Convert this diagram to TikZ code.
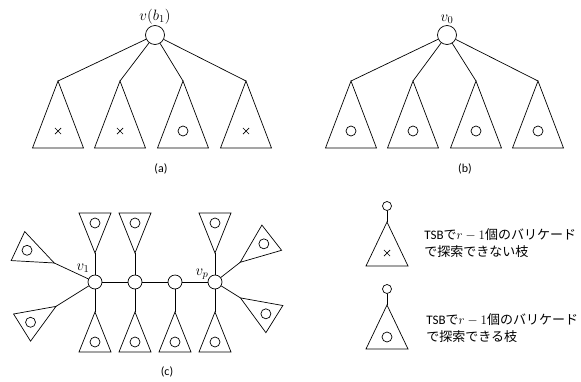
\RequirePackage{fix-cm}
\documentclass[tikz,border=0pt]{standalone}
\usepackage{fontspec}
\setmainfont{Carlito}
\newfontfamily\jpfont{Noto Sans CJK JP}
\usetikzlibrary{positioning,shapes.misc}

\tikzset{
  vtx/.style={circle, draw, fill=white, inner sep=0pt, minimum size=#1},
  okmark/.style={circle, draw, inner sep=0pt, minimum size=10pt},
  ngmark/.style={cross out, draw, inner sep=0pt, minimum size=5.5pt},
  sublabel/.style={font=\fontsize{12}{14}\selectfont},
  vlabel/.style={inner sep=1pt, font=\fontsize{15}{17}\selectfont},
  note/.style={anchor=west, align=left, inner sep=0pt, font=\fontsize{13}{17}\selectfont},
}

\begin{document}
\begin{tikzpicture}[x=1pt, y=-1pt, line width=0.7pt]
	\useasboundingbox (0,0) rectangle (581,381);
	% (a)
	\node[vtx=19pt] (ra) at (155,35) {};
	\node[vlabel, above=0pt of ra] (ralab) {$v(b_1)$};
	\foreach \x/\m [count=\i] in {58/ngmark,120/ngmark,183/okmark,246/ngmark} {
		\coordinate (ta\i) at (\x,81);
		\draw (ta\i) -- ++(25.5,67) -- ++(-51,0) -- cycle;
		\node[\m] (ma\i) at (\x,131) {};
		\draw (ra) -- (ta\i);
	}
	\node[sublabel] (capa) at (161,169) {(a)};
	% (b)
	\node[vtx=19pt] (rb) at (447,35) {};
	\node[vlabel, above=0pt of rb] (rblab) {$v_0$};
	\foreach \x [count=\i] in {351,413,476,538} {
		\coordinate (tb\i) at (\x,81);
		\draw (tb\i) -- ++(25.5,67) -- ++(-51,0) -- cycle;
		\node[okmark] (mb\i) at (\x,131) {};
		\draw (rb) -- (tb\i);
	}
	\node[sublabel] (capb) at (465,169) {(b)};
	% (c)
	\foreach \x [count=\i] in {95,135,175,215}
		\node[vtx=14pt] (c\i) at (\x,282) {};
	\draw (c1) -- (c2) -- (c3) -- (c4);
	\node[vlabel] (lv1) at (83,268) {$v_1$};
	\node[vlabel] (lvp) at (202,274) {$v_p$};
	\foreach \v/\a/\d [count=\i] in {c1/90/29,c1/270/30,c1/155/45,c1/212/46,c2/90/29,c2/270/30,c3/270/30,c4/90/29,c4/270/30,c4/38/32,c4/-32/30} {
		\begin{scope}[shift={(\v)}, rotate=\a]
			\coordinate (tc\i) at (\d,0);
			\draw (tc\i) -- ++(40,16) -- ++(0,-32) -- cycle;
			\node[okmark] (mc\i) at (\d+30,0) {};
		\end{scope}
		\draw (\v) -- (tc\i);
	}
	\node[sublabel] (capc) at (167,372) {(c)};
	% legend
	\node[vtx=9pt] (lg1) at (387,206) {};
	\coordinate (tl1) at (387,222);
	\draw (tl1) -- ++(21,44) -- ++(-42,0) -- cycle;
	\node[ngmark] (ml1) at (387,253) {};
	\draw (lg1) -- (tl1);
	\node[note] (tx1) at (424,243.5) {TSB{\jpfont で}$r-1${\jpfont 個のバリケード}\\{\jpfont で探索できない枝}};
	\node[vtx=9pt] (lg2) at (387,289) {};
	\coordinate (tl2) at (387,305);
	\draw (tl2) -- ++(21,44) -- ++(-42,0) -- cycle;
	\node[okmark] (ml2) at (387,337) {};
	\draw (lg2) -- (tl2);
	\node[note] (tx2) at (426,328.5) {TSB{\jpfont で}$r-1${\jpfont 個のバリケード}\\{\jpfont で探索できる枝}};
\end{tikzpicture}
\end{document}
